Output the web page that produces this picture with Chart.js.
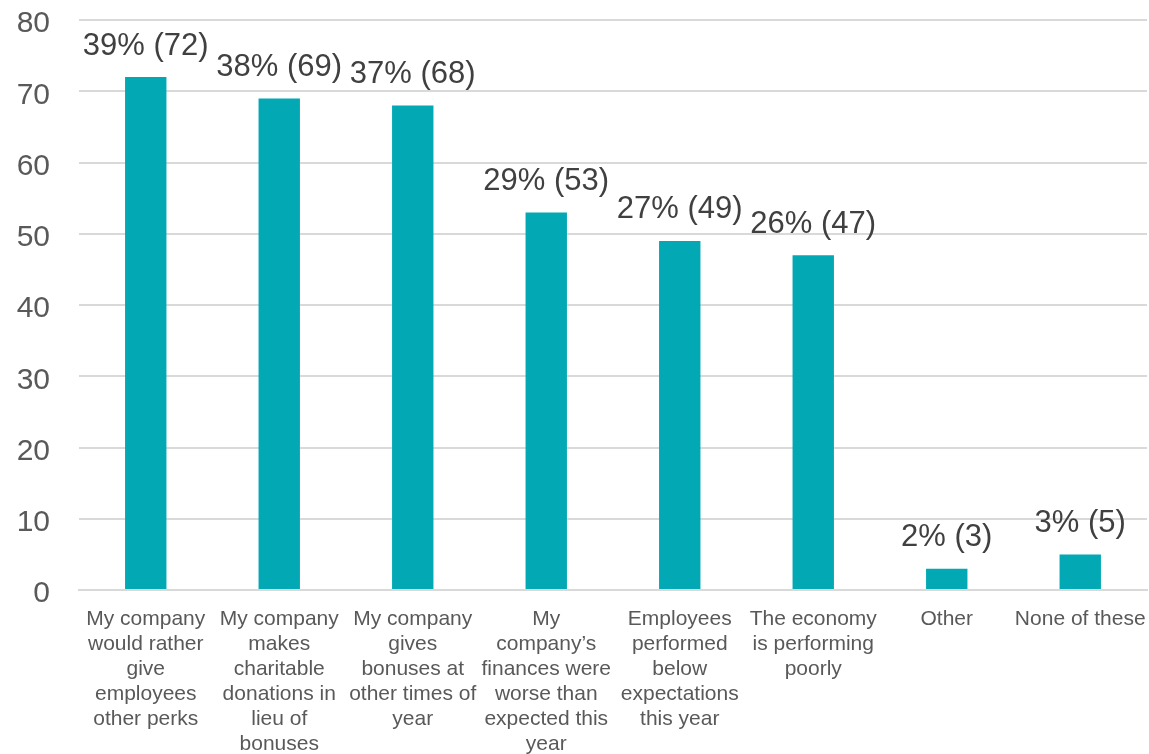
<!DOCTYPE html>
<html>
<head>
<meta charset="utf-8">
<script src="https://cdn.jsdelivr.net/npm/chart.js@4"></script>
<style>
  html, body { margin: 0; padding: 0; background: #fff; }
  #wrap { width: 1149px; height: 754px; position: relative; }
</style>
</head>
<body>
<div id="wrap"><canvas id="reasonsChart"></canvas></div>
<script>
/*
* reasons given for no holiday bonus; counts per answer, with the share of
* respondents shown above each bar.
*/
const categories = [
   ['My company', 'would rather', 'give', 'employees', 'other perks'],
   ['My company', 'makes', 'charitable', 'donations in', 'lieu of', 'bonuses'],
   ['My company', 'gives', 'bonuses at', 'other times of', 'year'],
   ['My', 'company\u2019s', 'finances were', 'worse than', 'expected this', 'year'],
   ['Employees', 'performed', 'below', 'expectations', 'this year'],
   ['The economy', 'is performing', 'poorly'],
   'Other',
   'None of these'
];
const counts = [72, 69, 68, 53, 49, 47, 3, 5];
const percents = [39, 38, 37, 29, 27, 26, 2, 3];
const yTicks = [0, 10, 20, 30, 40, 50, 60, 70, 80];

const FONT = "'Liberation Sans', Arial, sans-serif";
const barColour = '#02a9b4';
const gridColour = '#d9d9d9';

/*
* writes "pct% (count)" above every bar, using the bar's own position.
*/
const valueLabels = {
   id: 'valueLabels',
   afterDatasetsDraw(chart) {
      const ctx = chart.ctx;
      const meta = chart.getDatasetMeta(0);
      ctx.save();
      ctx.font = '31px ' + FONT;
      ctx.fillStyle = '#404040';
      ctx.textAlign = 'center';
      ctx.textBaseline = 'middle';
      meta.data.forEach((bar, i) => {
         ctx.fillText(percents[i] + '% (' + counts[i] + ')', bar.x, bar.y - 31);
      });
      ctx.restore();
   }
};

const canvas = document.querySelector('#reasonsChart');

new Chart(canvas, {
   type: 'bar',
   data: {
      labels: categories,
      datasets: [{
         data: counts,
         backgroundColor: barColour,
         borderWidth: 0,
         barPercentage: 0.62,
         categoryPercentage: 0.5
      }]
   },
   options: {
      responsive: true,
      maintainAspectRatio: false,
      animation: false,
      layout: {
         padding: { top: 20, right: 2, left: 0, bottom: 0 }
      },
      plugins: {
         legend: { display: false },
         tooltip: { enabled: false }
      },
      scales: {
         x: {
            grid: { display: false },
            border: { color: gridColour, width: 2 },
            ticks: {
               color: '#595959',
               font: { family: FONT, size: 21, lineHeight: 25 / 21 },
               padding: 9,
               maxRotation: 0,
               autoSkip: false
            },
            afterFit: scale => {
               scale.height = 164;
               scale.paddingLeft = 0;
               scale.paddingRight = 0;
            }
         },
         y: {
            min: 0,
            max: 80,
            afterBuildTicks: scale => {
               scale.ticks = yTicks.map(v => ({ value: v }));
            },
            grid: { color: gridColour, lineWidth: 2, drawTicks: false },
            border: { display: false },
            ticks: {
               color: '#595959',
               font: { family: FONT, size: 30 },
               padding: 29,
               labelOffset: 4
            },
            afterFit: scale => {
               scale.width = 79;
               scale.paddingTop = 0;
               scale.paddingBottom = 0;
            }
         }
      }
   },
   plugins: [valueLabels]
});
</script>
</body>
</html>
